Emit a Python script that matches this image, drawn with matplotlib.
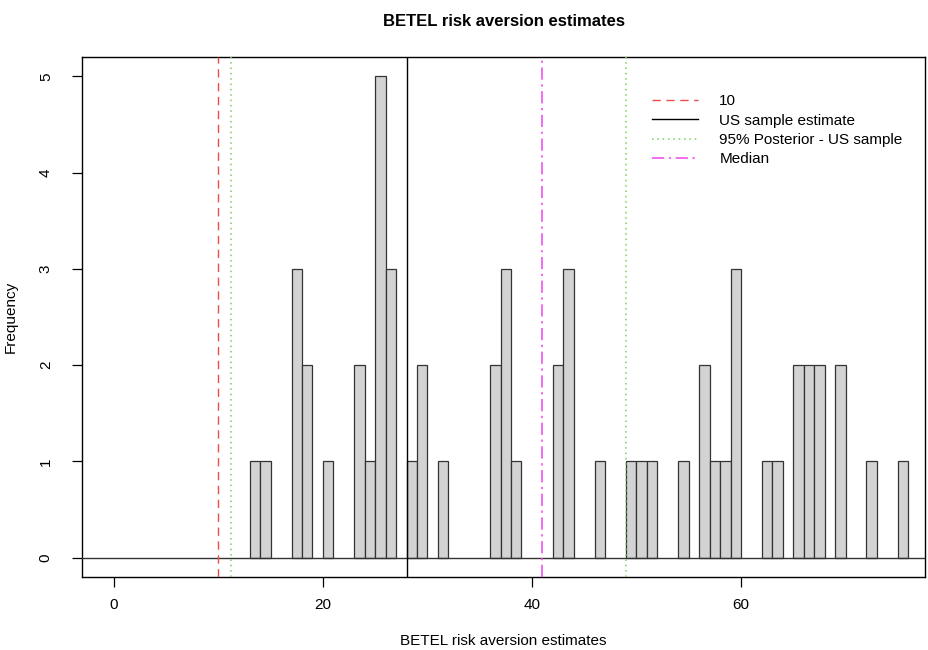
import matplotlib
matplotlib.use("Agg")
import matplotlib.pyplot as plt
from matplotlib.lines import Line2D

plt.rcParams['font.family'] = ['Liberation Sans', 'DejaVu Sans']

# histogram bins (left edge, width 1) and counts
bin_left = [13, 14, 17, 18, 20, 23, 24, 25, 26, 28, 29, 31, 36, 37, 38, 42, 43, 46,
            49, 50, 51, 54, 56, 57, 58, 59, 62, 63, 65, 66, 67, 69, 72, 75]
counts = [1, 1, 3, 2, 1, 2, 1, 5, 3, 1, 2, 1, 2, 3, 1, 2, 3, 1,
          1, 1, 1, 1, 2, 1, 1, 3, 1, 1, 2, 2, 2, 2, 1, 1]

ref_value = 10
us_estimate = 28
posterior_95 = [11.25, 49.0]
median_value = 41.0

x_ticks = [0, 20, 40, 60]
y_ticks = [0, 1, 2, 3, 4, 5]

fig = plt.figure(figsize=(9.29, 6.5), dpi=100)
ax = fig.add_axes([0.0883, 0.1123, 0.9074, 0.800])

ax.bar(bin_left, counts, width=1, align='edge', color='#d3d3d3',
       edgecolor='#333333', linewidth=0.9, zorder=2)
ax.axhline(0, color='#333333', linewidth=1.0, zorder=3)

red_ls = (0, (6, 4))
green_ls = (0, (1, 2.5))
mag_ls = (0, (8, 3, 1.5, 3))

ax.axvline(ref_value, color='#ee4c4c', linestyle=red_ls, linewidth=1.0, zorder=4)
ax.axvline(us_estimate, color='black', linewidth=1.0, zorder=4)
for p in posterior_95:
    ax.axvline(p, color='#7ccd5a', linestyle=green_ls, linewidth=1.1, zorder=4)
ax.axvline(median_value, color='#ee44ee', linestyle=mag_ls, linewidth=1.1, zorder=4)

ax.set_xlim(-3.04, 77.6)
ax.set_ylim(-0.2, 5.2)
ax.set_xticks(x_ticks)
ax.set_yticks(y_ticks)
ax.set_yticklabels([str(v) for v in y_ticks], rotation=90, va='center')
ax.tick_params(direction='out', length=7, width=0.9, labelsize=11)
ax.tick_params(axis='x', pad=8)
ax.tick_params(axis='y', pad=14)

for s in ax.spines.values():
    s.set_linewidth(1.0)

ax.set_title("BETEL risk aversion estimates", fontsize=12, fontweight='bold', pad=22)
ax.set_xlabel("BETEL risk aversion estimates", fontsize=11, labelpad=16)
ax.set_ylabel("Frequency", fontsize=11, labelpad=15)

handles = [
    Line2D([], [], color='#ee4c4c', linestyle=red_ls, linewidth=1.0),
    Line2D([], [], color='black', linewidth=1.0),
    Line2D([], [], color='#7ccd5a', linestyle=green_ls, linewidth=1.1),
    Line2D([], [], color='#ee44ee', linestyle=mag_ls, linewidth=1.1),
]
labels = ["10", "US sample estimate", "95% Posterior - US sample", "Median"]
ax.legend(handles, labels, loc='upper left', bbox_to_anchor=(0.66, 0.955),
          frameon=False, fontsize=11, handlelength=3.0, handletextpad=1.4,
          labelspacing=0.35)

fig.savefig("out.png", dpi=100)
